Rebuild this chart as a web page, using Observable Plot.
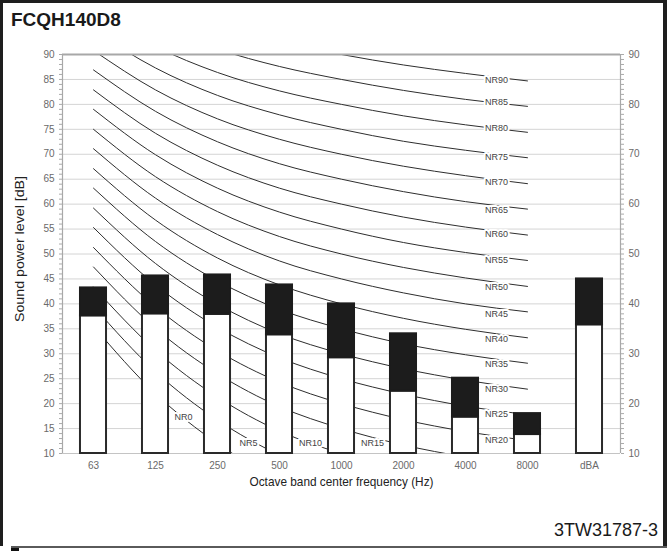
<!DOCTYPE html>
<html>
<head>
<meta charset="utf-8">
<script src="https://cdn.jsdelivr.net/npm/d3@7"></script>
<script src="https://cdn.jsdelivr.net/npm/@observablehq/plot@0.6"></script>
<style>
  html, body { margin: 0; padding: 0; background: #fff; }
  #page { position: relative; width: 667px; height: 551px; overflow: hidden; background: #fff;
          font-family: "Liberation Sans", Arial, sans-serif; }
  #page svg { position: absolute; left: 0; top: 0; }
  .b { position: absolute; background: #1e1e1e; }
  #title { position: absolute; left: 11px; top: 10px; font-size: 19px; line-height: 19px; font-weight: bold; color: #1a1a1a; }
  #caption { position: absolute; right: 9px; top: 521px; font-size: 18px; line-height: 18px; color: #1a1a1a; }
</style>
</head>
<body>
<div id="page">
  <div id="chart"></div>
  <div id="title">FCQH140D8</div>
  <div id="caption">3TW31787-3</div>
  <div class="b" style="left:0;top:0;width:667px;height:3px"></div>
  <div class="b" style="left:0;top:0;width:3px;height:546px"></div>
  <div class="b" style="left:663px;top:0;width:4px;height:546px"></div>
  <div class="b" style="left:11px;top:546px;width:656px;height:2px;background:#5a5a5a"></div>
  <div class="b" style="left:11px;top:548px;width:8px;height:3px;background:#111"></div>
</div>
<script>
// ---- data ----
const bands = ["63", "125", "250", "500", "1000", "2000", "4000", "8000", "dBA"];
const totalLevel = [43.2, 45.6, 45.8, 43.8, 40.0, 34.0, 25.1, 18.0, 45.0];
const lowerLevel = [37.6, 38.0, 37.9, 33.8, 29.2, 22.5, 17.3, 13.8, 35.8];

// NR curves: level at 63..8000 Hz
const nrNames = ["NR0","NR5","NR10","NR15","NR20","NR25","NR30","NR35","NR40","NR45",
                 "NR50","NR55","NR60","NR65","NR70","NR75","NR80","NR85","NR90"];
const nrCurveValues = [
  [35.5, 22.0, 12.0, 4.8, 0.0, -3.5, -6.1, -8.0],
  [39.5, 26.4, 16.7, 9.7, 5.0, 1.6, -1.0, -2.9],
  [43.4, 30.7, 21.3, 14.5, 10.0, 6.7, 4.2, 2.3],
  [47.4, 35.1, 26.0, 19.4, 15.0, 11.7, 9.3, 7.5],
  [51.3, 39.4, 30.6, 24.3, 20.0, 16.8, 14.4, 12.6],
  [55.3, 43.8, 35.3, 29.2, 25.0, 21.9, 19.5, 17.8],
  [59.2, 48.1, 39.9, 34.0, 30.0, 27.0, 24.7, 22.9],
  [63.2, 52.5, 44.6, 38.9, 35.0, 32.0, 29.8, 28.1],
  [67.1, 56.8, 49.2, 43.8, 40.0, 37.1, 34.9, 33.2],
  [71.1, 61.2, 53.9, 48.6, 45.0, 42.2, 40.0, 38.4],
  [75.0, 65.5, 58.5, 53.5, 50.0, 47.3, 45.2, 43.5],
  [79.0, 69.9, 63.2, 58.4, 55.0, 52.3, 50.3, 48.7],
  [82.9, 74.2, 67.8, 63.2, 60.0, 57.4, 55.4, 53.8],
  [86.9, 78.6, 72.5, 68.1, 65.0, 62.5, 60.5, 59.0],
  [90.8, 82.9, 77.1, 73.0, 70.0, 67.6, 65.7, 64.1],
  [94.8, 87.3, 81.8, 77.9, 75.0, 72.6, 70.8, 69.3],
  [98.7, 91.6, 86.4, 82.7, 80.0, 77.7, 75.9, 74.4],
  [102.7, 96.0, 91.1, 87.6, 85.0, 82.8, 81.0, 79.6],
  [106.6, 100.3, 95.7, 92.5, 90.0, 87.9, 86.2, 84.7]
];
// where each NR label sits (band index, dB)
const nrLabelBand = [1.45, 2.5, 3.5, 4.5, 6.5, 6.5, 6.5, 6.5, 6.5, 6.5, 6.5, 6.5, 6.5, 6.5, 6.5, 6.5, 6.5, 6.5, 6.5];
const nrLabelLevel = [17.3, 12.1, 12.1, 12.0, 12.6, 17.8, 23.0, 28.0, 33.0, 38.0, 43.3, 48.8, 54.0, 58.9, 64.4, 69.5, 75.3, 80.4, 84.9];

const yTicksLeft = d3.range(10, 91, 5);
const yTicksRight = d3.range(10, 91, 10);
const yMinor = d3.range(10, 91, 1);
const gridLines = d3.range(15, 90, 5);

// ---- tables built from arrays ----
const bars = bands.map((b, i) => ({i, band: b, total: totalLevel[i], lower: lowerLevel[i]}));
const nrRows = nrNames.flatMap((n, k) => nrCurveValues[k].map((v, i) => ({nr: n, i, v})));
const nrLabels = nrNames.map((n, k) => ({nr: n, x: nrLabelBand[k], y: nrLabelLevel[k]}));

const half = 0.21;
const tickFont = "Liberation Sans, Arial, sans-serif";

const chart = Plot.plot({
  width: 667,
  height: 500,
  marginLeft: 62,
  marginRight: 47,
  marginTop: 54,
  marginBottom: 47,
  style: {background: "transparent", fontFamily: tickFont},
  x: {type: "linear", domain: [-0.5, 8.5], axis: null},
  y: {domain: [10, 90], axis: null},
  marks: [
    Plot.ruleY(gridLines, {stroke: "#d4d4d4", strokeWidth: 1}),
    Plot.ruleY([10], {stroke: "#c4c4c4", strokeWidth: 1}),
    Plot.line(nrRows, {x: "i", y: "v", z: "nr", curve: "monotone-x", stroke: "#2e2e2e", strokeWidth: 1, clip: true}),
    Plot.text(nrLabels, {x: "x", y: "y", text: "nr", fill: "#444", fontSize: 9,
      stroke: "white", strokeWidth: 4, paintOrder: "stroke"}),
    Plot.rectY(bars, {x1: d => d.i - half, x2: d => d.i + half, y1: 10, y2: "lower",
      fill: "white", stroke: "#2a2a2a", strokeWidth: 2}),
    Plot.rectY(bars, {x1: d => d.i - half, x2: d => d.i + half, y1: "lower", y2: "total",
      fill: "#1c1c1c", stroke: "#1c1c1c", strokeWidth: 2}),
    Plot.ruleY([90], {stroke: "#a8a8a8", strokeWidth: 2}),
    Plot.ruleX([-0.5, 8.5], {stroke: "#a8a8a8", strokeWidth: 1.2}),
    Plot.axisY(yMinor, {anchor: "left", tickSize: 3, tickFormat: () => "", stroke: "#aaa"}),
    Plot.axisY(yMinor, {anchor: "right", tickSize: 3, tickFormat: () => "", stroke: "#aaa"}),
    Plot.axisY(yTicksLeft, {anchor: "left", tickSize: 0, tickPadding: 8, fontSize: 10, fill: "#6a6a6a", label: null}),
    Plot.axisY(yTicksRight, {anchor: "right", tickSize: 0, tickPadding: 8, fontSize: 10, fill: "#6a6a6a", label: null}),
    Plot.axisX(d3.range(bands.length), {anchor: "bottom", tickSize: 0, tickPadding: 8, fontSize: 10,
      fill: "#6a6a6a", tickFormat: i => bands[i], label: null}),
    Plot.text(["Sound power level [dB]"], {frameAnchor: "left", textAnchor: "middle", lineAnchor: "middle",
      dx: -42, dy: -5, rotate: -90, fontSize: 12, fill: "#222", className: "ytitle"}),
    Plot.text(["Octave band center frequency (Hz)"], {frameAnchor: "bottom", textAnchor: "middle", lineAnchor: "middle",
      dy: 28, fontSize: 13, fill: "#222", className: "xtitle"})
  ]
});
document.getElementById("chart").appendChild(chart);
// condense the axis titles like the narrow face in the reference
chart.querySelectorAll(".xtitle text").forEach(t => { t.setAttribute("textLength", 184); t.setAttribute("lengthAdjust", "spacingAndGlyphs"); });
chart.querySelectorAll(".ytitle text").forEach(t => { t.setAttribute("textLength", 146); t.setAttribute("lengthAdjust", "spacingAndGlyphs"); });
</script>
</body>
</html>
